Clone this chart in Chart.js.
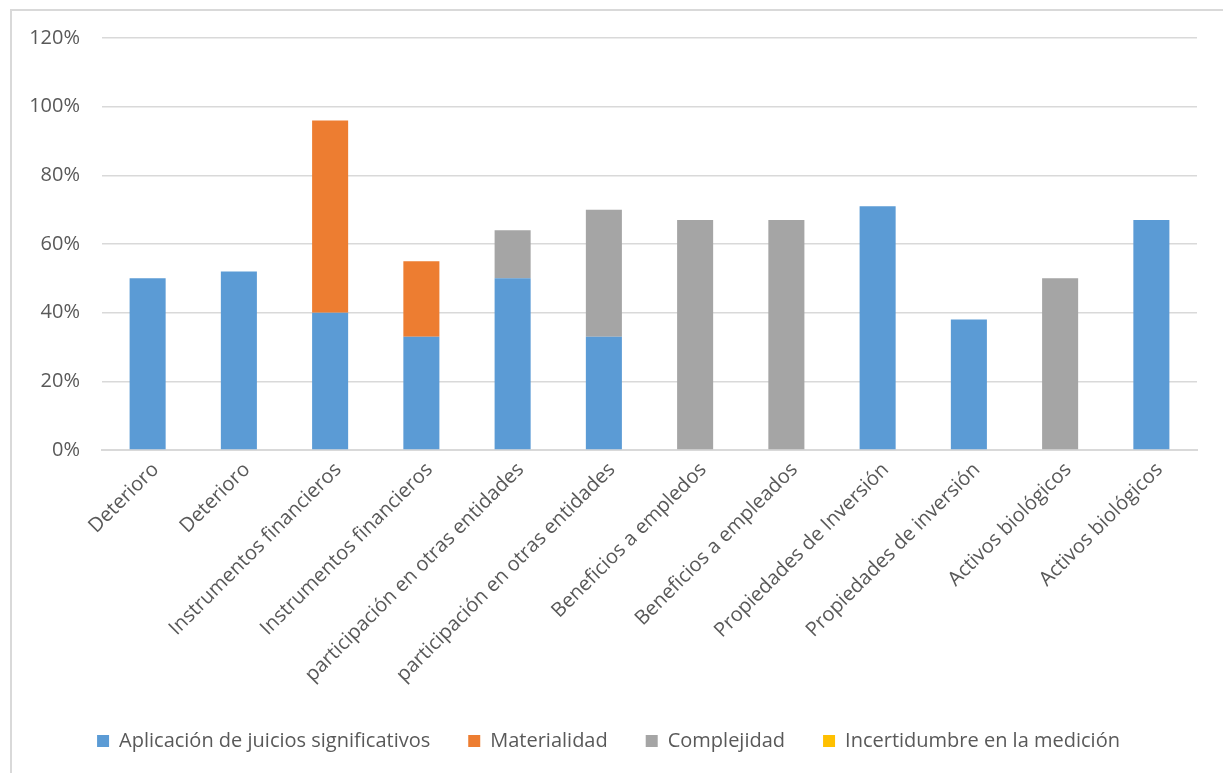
<!DOCTYPE html>
<html lang="es">
<head>
  <meta charset="UTF-8" />
  <title>Factores por partida</title>
  <script src="https://cdn.jsdelivr.net/npm/chart.js"></script>
  <style>
    html, body {
      margin: 0;
      padding: 0;
      background: #fff;
      overflow: hidden;
    }

    #marco {
      position: absolute;
      left: 10px;
      top: 9px;
      width: 1400px;
      height: 1000px;
      border: 2px solid #d9d9d9;
    }

    #contenedor {
      position: absolute;
      left: 0;
      top: 0;
      width: 1223px;
      height: 773px;
    }
  </style>
</head>
<body>
  <div id="marco"></div>
  <div id="contenedor">
    <canvas id="grafico"></canvas>
  </div>

  <script>
    // categorias del eje X
    const categorias = [
      'Deterioro',
      'Deterioro',
      'Instrumentos financieros',
      'Instrumentos financieros',
      'participación en otras entidades',
      'participación en otras entidades',
      'Beneficios a empledos',
      'Beneficios a empleados',
      'Propiedades de Inversión',
      'Propiedades de inversión',
      'Activos biológicos',
      'Activos biológicos'
    ];

    // valores en % (apilados)
    const aplicacion    = [50, 52, 40, 33, 50, 33, 0, 0, 71, 38, 0, 67];
    const materialidad  = [0, 0, 56, 22, 0, 0, 0, 0, 0, 0, 0, 0];
    const complejidad   = [0, 0, 0, 0, 14, 37, 67, 67, 0, 0, 50, 0];
    const incertidumbre = [0, 0, 0, 0, 0, 0, 0, 0, 0, 0, 0, 0];

    const ticksY = [0, 20, 40, 60, 80, 100, 120];

    const gris = '#595959';
    const fuente = "'Open Sans', sans-serif";

    new Chart(document.getElementById('grafico'), {
      type: 'bar',
      data: {
        labels: categorias,
        datasets: [
          { label: 'Aplicación de juicios significativos', data: aplicacion, backgroundColor: '#5b9bd5' },
          { label: 'Materialidad', data: materialidad, backgroundColor: '#ed7d31' },
          { label: 'Complejidad', data: complejidad, backgroundColor: '#a5a5a5' },
          { label: 'Incertidumbre en la medición', data: incertidumbre, backgroundColor: '#ffc000' }
        ]
      },
      options: {
        responsive: true,
        maintainAspectRatio: false,
        animation: false,
        layout: {
          padding: { left: 20, right: 26, top: 38, bottom: 12 }
        },
        datasets: {
          bar: { barPercentage: 0.395, categoryPercentage: 1 }
        },
        plugins: {
          tooltip: { enabled: false },
          legend: {
            position: 'bottom',
            labels: {
              color: gris,
              boxWidth: 12,
              boxHeight: 12,
              padding: 38,
              font: { family: fuente, size: 20 }
            }
          }
        },
        scales: {
          x: {
            stacked: true,
            grid: { display: false },
            border: { color: '#d9d9d9', width: 2 },
            ticks: {
              color: gris,
              maxRotation: 45,
              minRotation: 45,
              autoSkip: false,
              labelOffset: 8,
              padding: 0,
              font: { family: fuente, size: 20 }
            },
            afterFit: (eje) => { eje.height = 243; }
          },
          y: {
            stacked: true,
            min: 0,
            max: 120,
            afterBuildTicks: (eje) => { eje.ticks = ticksY.map(v => ({ value: v })); },
            grid: { color: '#d9d9d9', lineWidth: 1.5, drawTicks: false },
            border: { display: false },
            ticks: {
              color: gris,
              padding: 22,
              font: { family: fuente, size: 20 },
              callback: (v) => v + '%'
            },
            afterFit: (eje) => { eje.width = 82; }
          }
        }
      }
    });
  </script>
</body>
</html>
